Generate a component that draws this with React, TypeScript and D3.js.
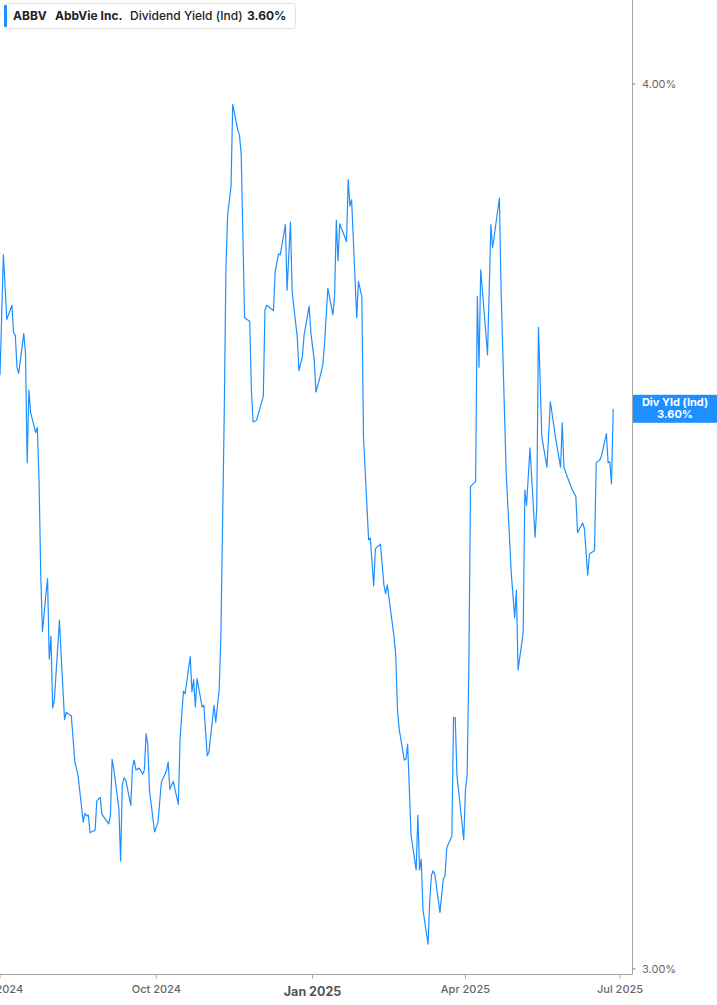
import React from "react";
import * as d3 from "d3";

const dates: string[] = [
  "2024-07-01","2024-07-03","2024-07-05","2024-07-08","2024-07-09","2024-07-10","2024-07-11","2024-07-12",
  "2024-07-15","2024-07-16","2024-07-17","2024-07-18","2024-07-19","2024-07-22","2024-07-23","2024-07-24",
  "2024-07-25","2024-07-26","2024-07-28","2024-07-29","2024-07-30","2024-07-31","2024-08-01","2024-08-02",
  "2024-08-05","2024-08-06","2024-08-08","2024-08-09","2024-08-12","2024-08-14","2024-08-16","2024-08-19",
  "2024-08-20","2024-08-21","2024-08-22","2024-08-23","2024-08-26","2024-08-27","2024-08-29","2024-08-30",
  "2024-09-03","2024-09-04","2024-09-05","2024-09-06","2024-09-09","2024-09-10","2024-09-11","2024-09-12",
  "2024-09-13","2024-09-16","2024-09-17","2024-09-18","2024-09-19","2024-09-21","2024-09-23","2024-09-24",
  "2024-09-25","2024-09-26","2024-09-27","2024-09-30","2024-10-02","2024-10-04","2024-10-07","2024-10-08",
  "2024-10-09","2024-10-11","2024-10-14","2024-10-15","2024-10-17","2024-10-18","2024-10-21","2024-10-22",
  "2024-10-23","2024-10-24","2024-10-25","2024-10-28","2024-10-29","2024-10-31","2024-11-01","2024-11-04",
  "2024-11-05","2024-11-07","2024-11-08","2024-11-10","2024-11-11","2024-11-12","2024-11-14","2024-11-15",
  "2024-11-18","2024-11-19","2024-11-20","2024-11-22","2024-11-25","2024-11-26","2024-11-27","2024-11-29",
  "2024-12-03","2024-12-04","2024-12-05","2024-12-09","2024-12-10","2024-12-12","2024-12-13","2024-12-16",
  "2024-12-17","2024-12-19","2024-12-20","2024-12-23","2024-12-24","2024-12-26","2024-12-27","2024-12-30",
  "2024-12-31","2025-01-02","2025-01-03","2025-01-05","2025-01-07","2025-01-08","2025-01-10","2025-01-13",
  "2025-01-14","2025-01-15","2025-01-16","2025-01-17","2025-01-21","2025-01-22","2025-01-23","2025-01-24",
  "2025-01-27","2025-01-28","2025-01-30","2025-01-31","2025-02-03","2025-02-04","2025-02-06","2025-02-07",
  "2025-02-10","2025-02-12","2025-02-13","2025-02-14","2025-02-18","2025-02-19","2025-02-20","2025-02-21",
  "2025-02-24","2025-02-25","2025-02-26","2025-02-28","2025-03-03","2025-03-04","2025-03-05","2025-03-06",
  "2025-03-07","2025-03-10","2025-03-11","2025-03-12","2025-03-13","2025-03-14","2025-03-17","2025-03-19",
  "2025-03-20","2025-03-21","2025-03-24","2025-03-25","2025-03-26","2025-03-27","2025-03-31","2025-04-01",
  "2025-04-02","2025-04-03","2025-04-04","2025-04-07","2025-04-08","2025-04-09","2025-04-10","2025-04-11",
  "2025-04-14","2025-04-16","2025-04-17","2025-04-21","2025-04-22","2025-04-25","2025-04-28","2025-04-30",
  "2025-05-01","2025-05-02","2025-05-05","2025-05-06","2025-05-07","2025-05-09","2025-05-12","2025-05-13",
  "2025-05-14","2025-05-16","2025-05-19","2025-05-21","2025-05-24","2025-05-27","2025-05-28","2025-05-29",
  "2025-05-31","2025-06-03","2025-06-05","2025-06-06","2025-06-09","2025-06-10","2025-06-12","2025-06-13",
  "2025-06-16","2025-06-17","2025-06-19","2025-06-20","2025-06-23","2025-06-24","2025-06-25","2025-06-26",
  "2025-06-27",
];

const yields: number[] = [
  3.671,3.807,3.734,3.750,3.719,3.716,3.680,3.673,
  3.718,3.696,3.572,3.654,3.629,3.606,3.612,3.550,
  3.445,3.381,3.423,3.441,3.350,3.376,3.295,3.304,
  3.394,3.354,3.282,3.290,3.286,3.235,3.218,3.166,
  3.176,3.173,3.174,3.154,3.157,3.190,3.194,3.175,
  3.164,3.173,3.237,3.226,3.181,3.122,3.208,3.216,
  3.214,3.185,3.228,3.236,3.225,3.227,3.220,3.225,
  3.266,3.254,3.202,3.155,3.166,3.211,3.224,3.234,
  3.203,3.212,3.186,3.259,3.314,3.311,3.353,3.313,
  3.327,3.296,3.328,3.296,3.298,3.241,3.245,3.298,
  3.279,3.315,3.372,3.626,3.790,3.852,3.884,3.977,
  3.948,3.942,3.920,3.736,3.732,3.654,3.618,3.620,
  3.647,3.745,3.750,3.744,3.788,3.808,3.807,3.841,
  3.767,3.844,3.765,3.714,3.676,3.692,3.716,3.749,
  3.719,3.688,3.652,3.666,3.682,3.705,3.769,3.739,
  3.762,3.846,3.800,3.842,3.822,3.892,3.862,3.869,
  3.736,3.777,3.760,3.601,3.485,3.487,3.433,3.475,
  3.480,3.434,3.424,3.434,3.375,3.354,3.293,3.271,
  3.236,3.237,3.254,3.151,3.112,3.174,3.112,3.124,
  3.067,3.028,3.078,3.106,3.111,3.107,3.064,3.102,
  3.105,3.137,3.150,3.284,3.284,3.219,3.146,3.202,
  3.219,3.338,3.545,3.551,3.760,3.680,3.790,3.767,
  3.694,3.841,3.815,3.871,3.767,3.560,3.447,3.397,
  3.428,3.338,3.380,3.541,3.524,3.589,3.488,3.522,
  3.725,3.601,3.567,3.641,3.601,3.567,3.617,3.567,
  3.556,3.541,3.534,3.493,3.504,3.498,3.445,3.469,
  3.473,3.572,3.575,3.579,3.605,3.572,3.573,3.548,
  3.633,
];

const xTickDates: string[] = ["2024-07-01", "2024-10-01", "2025-01-01", "2025-04-01", "2025-07-01"];
const xTickLabels: string[] = ["Jul 2024", "Oct 2024", "Jan 2025", "Apr 2025", "Jul 2025"];
const yTicks: number[] = [3.0, 4.0];

const legendTicker = "ABBV";
const legendName = "AbbVie Inc.";
const legendMetric = "Dividend Yield (Ind)";
const legendValue = "3.60%";
const tagTitle = "Div Yld (Ind)";

const W = 717;
const H = 1005;
const AXIS_X = 632.5;
const AXIS_Y = 974.5;
const BLUE = "#1e8fff";
const FONT = "Inter, 'Noto Sans', Arial, sans-serif";

export default function App() {
  const parse = d3.timeParse("%Y-%m-%d");
  const data = dates.map((d, i) => ({ date: parse(d) as Date, value: yields[i] }));

  const x = d3
    .scaleTime()
    .domain([parse("2024-07-01") as Date, parse("2025-07-01") as Date])
    .range([0, 620]);
  const y = d3.scaleLinear().domain([3, 4]).range([969, 84]);

  const line = d3
    .line<{ date: Date; value: number }>()
    .x((d) => x(d.date))
    .y((d) => y(d.value));

  const last = data[data.length - 1];
  const lastY = y(last.value);

  return (
    <svg
      width={W}
      height={H}
      style={{ position: "absolute", left: 0, top: 0, background: "#fff" }}
      fontFamily={FONT}
    >
      <defs>
        <clipPath id="plotClip">
          <rect x={0} y={0} width={AXIS_X} height={AXIS_Y} />
        </clipPath>
      </defs>

      <path
        d={line(data) || ""}
        fill="none"
        stroke={BLUE}
        strokeWidth={1.2}
        strokeLinejoin="round"
        clipPath="url(#plotClip)"
      />

      {/* axes */}
      <line x1={AXIS_X} x2={AXIS_X} y1={0} y2={AXIS_Y} stroke="#a6a6a6" strokeWidth={1} />
      <line x1={0} x2={AXIS_X} y1={AXIS_Y} y2={AXIS_Y} stroke="#a6a6a6" strokeWidth={1} />

      {yTicks.map((t) => (
        <g key={t} transform={`translate(0, ${y(t)})`}>
          <line x1={AXIS_X} x2={AXIS_X + 3} y1={0} y2={0} stroke="#888" strokeWidth={1} />
          <text x={642} y={0} dy="0.35em" fontSize={11} fill="#666">
            {d3.format(".2f")(t) + "%"}
          </text>
        </g>
      ))}

      {xTickDates.map((d, i) => {
        const px = x(parse(d) as Date);
        const isYear = xTickLabels[i].startsWith("Jan");
        return (
          <g key={d} transform={`translate(${px}, 0)`}>
            <line x1={0} x2={0} y1={AXIS_Y} y2={AXIS_Y + 4} stroke="#a6a6a6" strokeWidth={1} />
            <text
              x={0}
              y={isYear ? 996 : 993}
              textAnchor="middle"
              fontSize={isYear ? 12.5 : 11}
              fontWeight={isYear ? 700 : 500}
              fill={isYear ? "#555" : "#666"}
            >
              {xTickLabels[i]}
            </text>
          </g>
        );
      })}

      {/* last value tag */}
      <rect x={AXIS_X + 0.5} y={lastY - 14} width={W - AXIS_X} height={28} fill={BLUE} />
      <text x={675} y={lastY - 3} textAnchor="middle" fontSize={11} fontWeight={700} fill="#fff">
        {tagTitle}
      </text>
      <text x={675} y={lastY + 9} textAnchor="middle" fontSize={11} fontWeight={700} fill="#fff">
        {legendValue}
      </text>

      {/* legend */}
      <rect x={4.5} y={3.5} width={291} height={25} rx={3} fill="#fff" stroke="#e4e4e4" />
      <rect x={4} y={5} width={3} height={22} rx={1} fill={BLUE} />
      <text y={20} fontSize={12} fill="#222">
        <tspan x={13} fontWeight={700}>{legendTicker}</tspan>
        <tspan x={55} fontWeight={700}>{legendName}</tspan>
        <tspan x={130} fontWeight={500}>{legendMetric}</tspan>
        <tspan x={247} fontWeight={700}>{legendValue}</tspan>
      </text>
    </svg>
  );
}
